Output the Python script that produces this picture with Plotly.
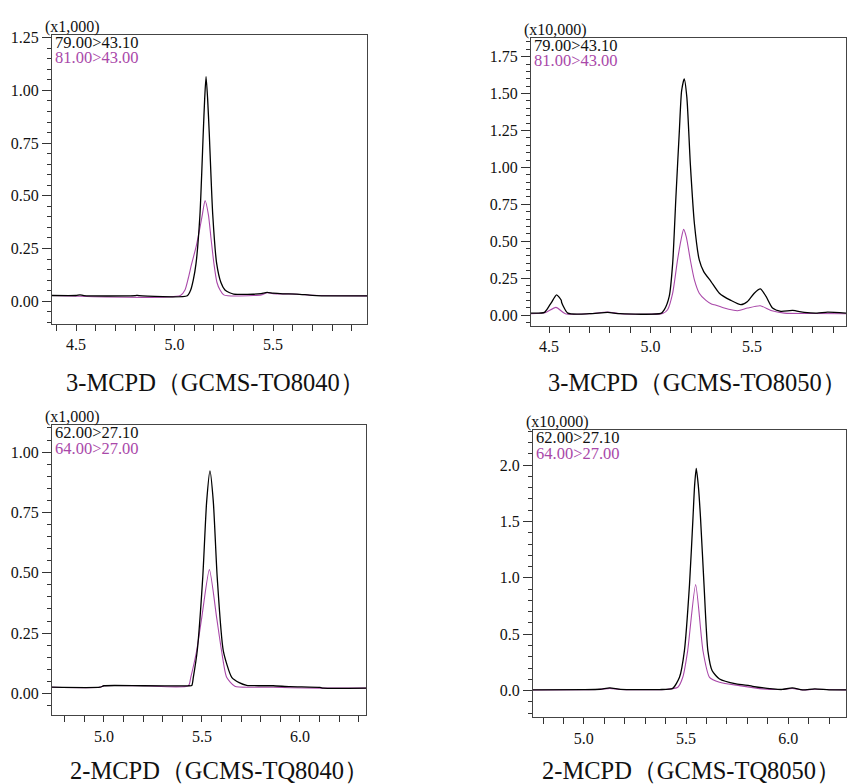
import plotly.graph_objects as go

# ---------------- data (retention time, intensity in axis units) ----------------
p1_black_t = [4.378, 4.50, 4.52, 4.54, 4.80, 4.81, 4.82, 5.065, 5.082, 5.095, 5.109, 5.129, 5.146, 5.153, 5.16,
              5.168, 5.176, 5.194, 5.214, 5.235, 5.256, 5.28, 5.30, 5.40, 5.44, 5.47, 5.50, 5.55, 5.62, 5.70, 5.80, 5.977]
p1_black_v = [0.027, 0.027, 0.030, 0.026, 0.026, 0.028, 0.026, 0.026, 0.053, 0.10, 0.178, 0.41, 0.803, 0.96, 1.066,
              0.96, 0.803, 0.41, 0.178, 0.09, 0.053, 0.040, 0.034, 0.033, 0.036, 0.042, 0.038, 0.035, 0.034, 0.028, 0.025, 0.025]
p1_purple_t = [4.378, 5.03, 5.053, 5.07, 5.087, 5.11, 5.126, 5.141, 5.155, 5.172, 5.185, 5.20, 5.215, 5.231, 5.25,
               5.27, 5.40, 5.44, 5.47, 5.50, 5.60, 5.70, 5.977]
p1_purple_v = [0.027, 0.027, 0.053, 0.11, 0.178, 0.26, 0.334, 0.41, 0.478, 0.41, 0.30, 0.178, 0.09, 0.053, 0.030,
               0.026, 0.027, 0.030, 0.040, 0.036, 0.034, 0.028, 0.025]

p2_black_t = [4.411, 4.477, 4.50, 4.512, 4.537, 4.56, 4.562, 4.592, 4.70, 4.789, 4.85, 5.051, 5.068, 5.092, 5.109,
              5.125, 5.142, 5.153, 5.166, 5.179, 5.196, 5.216, 5.24, 5.262, 5.298, 5.339, 5.396, 5.445, 5.478,
              5.511, 5.541, 5.569, 5.601, 5.642, 5.70, 5.757, 5.82, 5.872, 5.963]
p2_black_v = [0.013, 0.018, 0.06, 0.085, 0.137, 0.10, 0.085, 0.013, 0.009, 0.018, 0.009, 0.011, 0.036, 0.126, 0.35,
              0.80, 1.249, 1.518, 1.60, 1.473, 1.024, 0.62, 0.373, 0.294, 0.227, 0.148, 0.099, 0.07, 0.092,
              0.148, 0.177, 0.126, 0.047, 0.025, 0.031, 0.018, 0.013, 0.020, 0.013]
p2_purple_t = [4.411, 4.48, 4.534, 4.58, 4.70, 4.789, 4.85, 5.06, 5.084, 5.109, 5.133, 5.15, 5.163, 5.176, 5.196,
               5.216, 5.24, 5.273, 5.300, 5.314, 5.363, 5.429, 5.478, 5.541, 5.593, 5.659, 5.80, 5.963]
p2_purple_v = [0.009, 0.015, 0.052, 0.009, 0.009, 0.020, 0.009, 0.011, 0.036, 0.148, 0.373, 0.508, 0.58, 0.53, 0.373,
               0.238, 0.148, 0.099, 0.075, 0.07, 0.047, 0.029, 0.047, 0.063, 0.031, 0.013, 0.010, 0.009]

p3_black_t = [4.735, 4.98, 5.00, 5.20, 5.43, 5.448, 5.456, 5.476, 5.504, 5.524, 5.541, 5.558, 5.578, 5.609, 5.652,
              5.69, 5.728, 5.80, 5.863, 5.95, 6.102, 6.12, 6.337]
p3_black_v = [0.026, 0.026, 0.032, 0.032, 0.032, 0.033, 0.067, 0.177, 0.48, 0.795, 0.922, 0.795, 0.48, 0.177, 0.067,
              0.045, 0.034, 0.032, 0.032, 0.028, 0.025, 0.022, 0.022]
p3_purple_t = [4.735, 4.98, 5.00, 5.20, 5.431, 5.443, 5.473, 5.499, 5.538, 5.575, 5.600, 5.626, 5.668, 5.75, 5.863,
               5.95, 6.102, 6.12, 6.337]
p3_purple_v = [0.026, 0.026, 0.032, 0.032, 0.032, 0.067, 0.177, 0.314, 0.513, 0.314, 0.177, 0.067, 0.030, 0.026,
               0.026, 0.024, 0.022, 0.022, 0.022]

p4_black_t = [4.751, 5.00, 5.08, 5.127, 5.18, 5.30, 5.37, 5.435, 5.468, 5.492, 5.517, 5.534, 5.542, 5.550, 5.56,
              5.571, 5.588, 5.607, 5.628, 5.664, 5.745, 5.81, 5.826, 5.924, 5.97, 6.02, 6.07, 6.13, 6.20, 6.283]
p4_black_v = [0.006, 0.008, 0.012, 0.024, 0.010, 0.008, 0.009, 0.02, 0.118, 0.353, 0.94, 1.53, 1.82, 1.971, 1.82,
              1.53, 0.94, 0.353, 0.176, 0.103, 0.059, 0.044, 0.038, 0.015, 0.010, 0.024, 0.006, 0.015, 0.007, 0.006]
p4_purple_t = [4.751, 5.00, 5.08, 5.127, 5.18, 5.30, 5.40, 5.46, 5.484, 5.508, 5.547, 5.583, 5.615, 5.664, 5.761,
               5.875, 5.97, 6.02, 6.07, 6.13, 6.283]
p4_purple_v = [0.005, 0.007, 0.012, 0.020, 0.010, 0.008, 0.010, 0.03, 0.118, 0.353, 0.94, 0.353, 0.118, 0.074, 0.044,
               0.015, 0.010, 0.018, 0.006, 0.012, 0.006]

panel_titles = ["3-MCPD（GCMS-TO8040）", "3-MCPD（GCMS-TO8050）",
                "2-MCPD（GCMS-TQ8040）", "2-MCPD（GCMS-TQ8050）"]
scale_labels = ["(x1,000)", "(x10,000)", "(x1,000)", "(x10,000)"]
black_labels = ["79.00>43.10", "79.00>43.10", "62.00>27.10", "62.00>27.10"]
purple_labels = ["81.00>43.00", "81.00>43.00", "64.00>27.00", "64.00>27.00"]

# ---------------- layout helpers ----------------
W, H = 847, 784
BLACK = "#000000"
PURPLE = "#a948a9"
FONT = "Liberation Serif"

def px_x(p):
    return p / W

def px_y(p):
    return 1 - p / H

# panel boxes in pixels: (left, right, top, bottom)
boxes = [(52, 367, 30, 321), (531, 846, 33, 323), (52, 366, 423, 715), (533, 846, 428, 717)]
xranges = [[4.378, 5.977], [4.411, 5.963], [4.735, 6.337], [4.751, 6.283]]
yranges = [[-0.108, 1.264], [-0.074, 1.878], [-0.091, 1.111], [-0.238, 2.309]]
ydticks = [0.25, 0.25, 0.25, 0.5]
yminor = [0.05, 0.05, 0.05, 0.1]
yfmt = [".2f", ".2f", ".2f", ".1f"]
title_pos = [(215, 380), (697, 380), (219, 770), (691, 770)]

series = [
    (p1_black_t, p1_black_v, p1_purple_t, p1_purple_v),
    (p2_black_t, p2_black_v, p2_purple_t, p2_purple_v),
    (p3_black_t, p3_black_v, p3_purple_t, p3_purple_v),
    (p4_black_t, p4_black_v, p4_purple_t, p4_purple_v),
]

fig = go.Figure()
annotations = []
layout_axes = {}

for i in range(4):
    n = "" if i == 0 else str(i + 1)
    xa, ya = "x" + n, "y" + n
    bt, bv, pt, pv = series[i]
    fig.add_trace(go.Scatter(x=pt, y=pv, mode="lines", xaxis=xa, yaxis=ya,
                             line=dict(color=PURPLE, width=1.1, shape="spline", smoothing=0.6),
                             showlegend=False, hoverinfo="skip"))
    fig.add_trace(go.Scatter(x=bt, y=bv, mode="lines", xaxis=xa, yaxis=ya,
                             line=dict(color=BLACK, width=1.3, shape="spline", smoothing=0.6),
                             showlegend=False, hoverinfo="skip"))
    l, r, t, b = boxes[i]
    layout_axes["xaxis" + n] = dict(
        domain=[px_x(l), px_x(r)], anchor=ya, range=xranges[i],
        showline=True, mirror=True, linecolor="#444444", linewidth=1,
        showgrid=False, zeroline=False, ticks="outside", ticklen=6, tickcolor="#333333",
        tick0=0, dtick=0.5, tickformat=".1f",
        minor=dict(ticks="outside", ticklen=6, dtick=0.1, tick0=0, tickcolor="#333333", showgrid=False),
        tickfont=dict(family=FONT, size=16, color="#111111"),
    )
    layout_axes["yaxis" + n] = dict(
        domain=[px_y(b), px_y(t)], anchor=xa, range=yranges[i],
        showline=True, mirror=True, linecolor="#444444", linewidth=1,
        showgrid=False, zeroline=False, ticks="outside", ticklen=9, tickcolor="#333333",
        tick0=0, dtick=ydticks[i], tickformat=yfmt[i],
        minor=dict(ticks="outside", ticklen=4, dtick=yminor[i], tick0=0, tickcolor="#333333", showgrid=False),
        tickfont=dict(family=FONT, size=16, color="#111111"),
    )
    # scale label and channel labels
    annotations.append(dict(text=scale_labels[i], x=px_x(l - 9), y=px_y(t - 8), xref="paper", yref="paper",
                            xanchor="left", yanchor="middle", showarrow=False,
                            font=dict(family=FONT, size=16, color="#111111")))
    annotations.append(dict(text=black_labels[i], x=px_x(l + 1), y=px_y(t + 7.5), xref="paper", yref="paper",
                            xanchor="left", yanchor="middle", showarrow=False,
                            font=dict(family=FONT, size=16.5, color="#111111")))
    annotations.append(dict(text=purple_labels[i], x=px_x(l + 1), y=px_y(t + 23), xref="paper", yref="paper",
                            xanchor="left", yanchor="middle", showarrow=False,
                            font=dict(family=FONT, size=16.5, color=PURPLE)))
    cx, cy = title_pos[i]
    annotations.append(dict(text=panel_titles[i], x=px_x(cx), y=px_y(cy), xref="paper", yref="paper",
                            xanchor="center", yanchor="middle", showarrow=False,
                            font=dict(family=FONT, size=24.5, color="#111111")))

fig.update_layout(
    width=W, height=H, margin=dict(l=0, r=0, t=0, b=0),
    paper_bgcolor="white", plot_bgcolor="white",
    annotations=annotations, showlegend=False,
    **layout_axes,
)

fig.write_html("out.html", config={"displayModeBar": False},
               post_script="document.body.style.margin='0';document.body.style.overflow='hidden';")
